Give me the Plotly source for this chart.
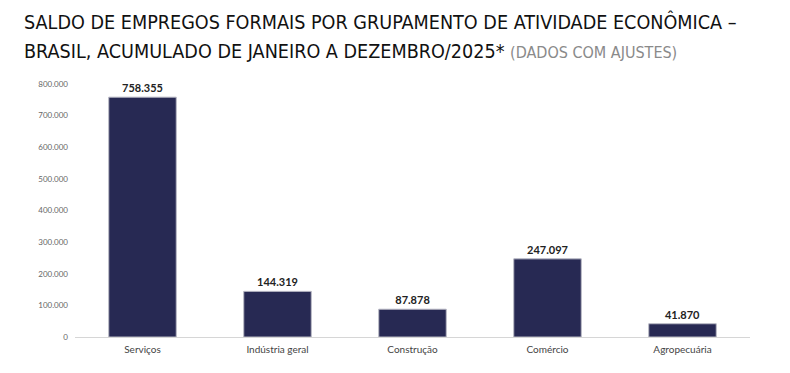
import plotly.graph_objects as go

categorias = ["Serviços", "Indústria geral", "Construção", "Comércio", "Agropecuária"]
saldo = [758355, 144319, 87878, 247097, 41870]
y_ticks = [0, 100000, 200000, 300000, 400000, 500000, 600000, 700000, 800000]

fig = go.Figure(go.Bar(
    x=categorias, y=saldo,
    marker=dict(color="#272953", line=dict(color="#b8b8c4", width=1)),
    texttemplate="%{y:,}", textposition="outside", cliponaxis=False,
    textfont=dict(family="Lato", size=11, color="#222222", weight="bold"),
))

title_font = dict(family="DejaVu Sans Condensed, Roboto, sans-serif", size=19.6, color="#111111")
fig.add_annotation(
    text="SALDO DE EMPREGOS FORMAIS POR GRUPAMENTO DE ATIVIDADE ECONÔMICA –",
    xref="paper", yref="paper", x=(22 - 75) / 675, y=1 + (84 - 8) / 253,
    xanchor="left", yanchor="top",
    showarrow=False, font=title_font,
)
fig.add_annotation(
    text=("BRASIL, ACUMULADO DE JANEIRO A DEZEMBRO/2025* "
          "<span style='font-size:16px;color:#8a8a8a'>(DADOS COM AJUSTES)</span>"),
    xref="paper", yref="paper", x=(22 - 75) / 675, y=1 + (84 - 38) / 253,
    xanchor="left", yanchor="top",
    showarrow=False, font=title_font,
)

fig.update_layout(
    width=790, height=373,
    margin=dict(l=75, r=40, t=84, b=36),
    paper_bgcolor="white", plot_bgcolor="white",
    separators=",.",
    bargap=0.5,
    showlegend=False,
    font=dict(family="Lato", color="#333333"),
    xaxis=dict(
        showline=True, linecolor="#d6d6d6", linewidth=1, ticks="",
        tickfont=dict(family="Lato", size=10, color="#444444"),
        showgrid=False, ticklabelstandoff=3,
    ),
    yaxis=dict(
        range=[0, 800000], tickvals=y_ticks, tickformat=",",
        showgrid=False, zeroline=False, showline=False,
        tickfont=dict(family="Lato", size=8, color="#666666"),
        ticklabelstandoff=6,
    ),
)

fig.write_html("out.html", config={"displayModeBar": False},
               post_script="document.body.style.margin='0';")
